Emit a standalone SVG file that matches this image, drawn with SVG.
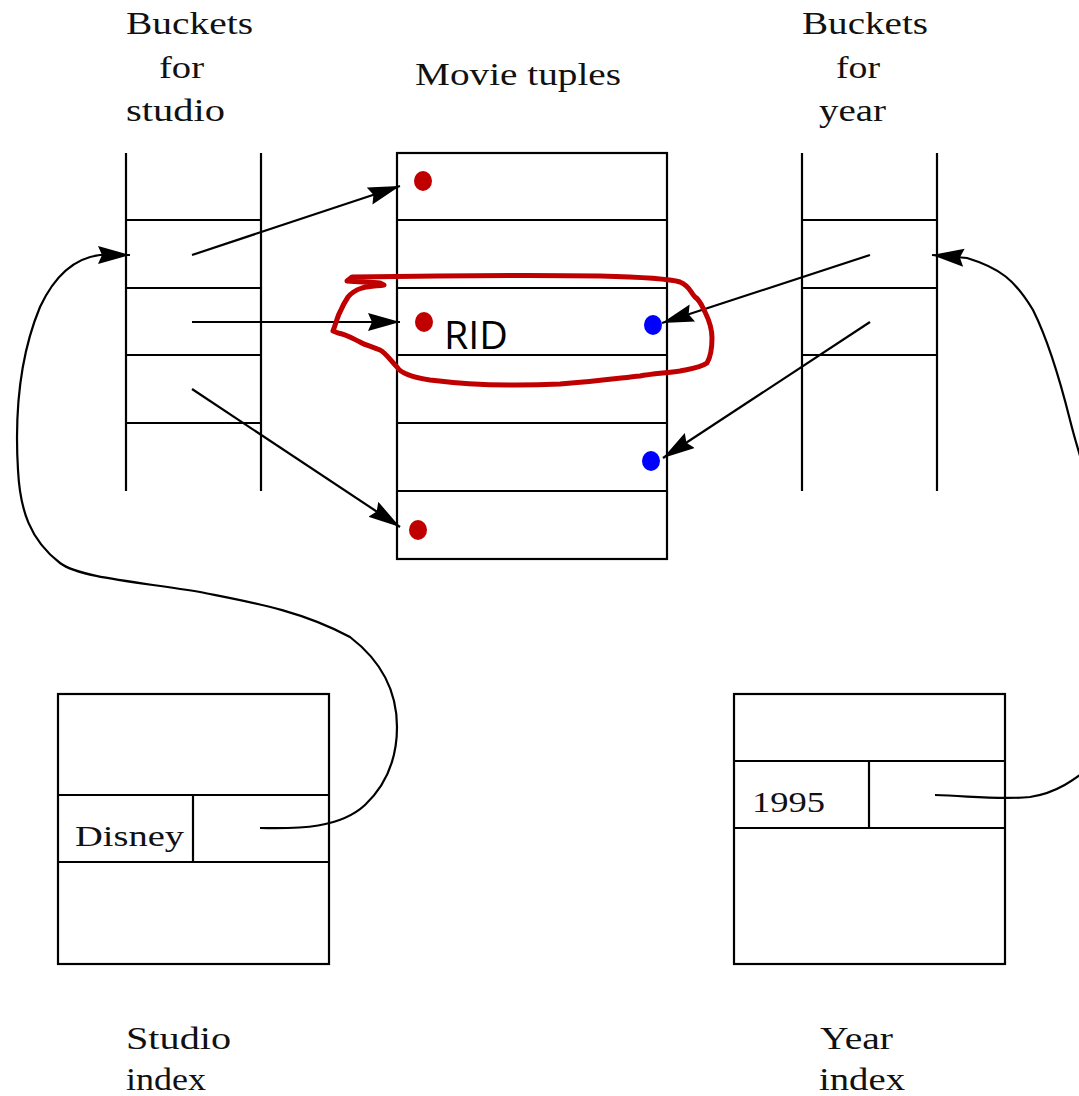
<svg xmlns="http://www.w3.org/2000/svg" width="1079" height="1096" viewBox="0 0 1079 1096">
<style>
.ln{stroke:#000;stroke-width:2.2;fill:none}
.lbl{font-family:"Liberation Serif","DejaVu Serif",serif;font-size:32px;fill:#111}
.cell{font-family:"Liberation Serif","DejaVu Serif",serif;font-size:30px;fill:#111}
.red{fill:#c00000}
.blue{fill:#0000ff}
</style>
<defs>
<marker id="ah" markerUnits="userSpaceOnUse" markerWidth="34" markerHeight="20" refX="32" refY="9" orient="auto">
<path d="M0,0 L32,9 L0,18 L4,9 Z" fill="#000"/>
</marker>
</defs>
<rect width="1079" height="1096" fill="#fff"/>

<g id="label-buckets-studio" class="lbl">
<text x="126" y="34" textLength="127" lengthAdjust="spacingAndGlyphs">Buckets</text>
<text x="159" y="78" textLength="45" lengthAdjust="spacingAndGlyphs">for</text>
<text x="126" y="121" textLength="99" lengthAdjust="spacingAndGlyphs">studio</text>
</g>
<g id="label-movie" class="lbl">
<text x="415" y="85" textLength="206" lengthAdjust="spacingAndGlyphs">Movie tuples</text>
</g>
<g id="label-buckets-year" class="lbl">
<text x="802" y="34" textLength="126" lengthAdjust="spacingAndGlyphs">Buckets</text>
<text x="836" y="78" textLength="44" lengthAdjust="spacingAndGlyphs">for</text>
<text x="819" y="121" textLength="67" lengthAdjust="spacingAndGlyphs">year</text>
</g>

<g id="studio-buckets" class="ln">
<line x1="126" y1="153" x2="126" y2="491"/>
<line x1="261" y1="153" x2="261" y2="491"/>
<line x1="126" y1="220" x2="261" y2="220"/>
<line x1="126" y1="288" x2="261" y2="288"/>
<line x1="126" y1="355" x2="261" y2="355"/>
<line x1="126" y1="423" x2="261" y2="423"/>
</g>

<g id="movie-tuples">
<g class="ln">
<rect x="397" y="153" width="270" height="406"/>
<line x1="397" y1="220" x2="667" y2="220"/>
<line x1="397" y1="288" x2="667" y2="288"/>
<line x1="397" y1="355" x2="667" y2="355"/>
<line x1="397" y1="423" x2="667" y2="423"/>
<line x1="397" y1="491" x2="667" y2="491"/>
</g>
<ellipse class="red" cx="423" cy="181" rx="9" ry="10"/>
<ellipse class="red" cx="424" cy="322" rx="9" ry="10"/>
<ellipse class="red" cx="418" cy="530" rx="9" ry="10"/>
<ellipse class="blue" cx="653" cy="325" rx="9" ry="10"/>
<ellipse class="blue" cx="651" cy="461" rx="9" ry="10"/>
<text x="444" y="349" font-family="'Open Sans','Liberation Sans',sans-serif" font-size="38" fill="#000" textLength="64" lengthAdjust="spacingAndGlyphs">RID</text>
</g>

<g id="year-buckets" class="ln">
<line x1="802" y1="153" x2="802" y2="491"/>
<line x1="937" y1="153" x2="937" y2="491"/>
<line x1="802" y1="220" x2="937" y2="220"/>
<line x1="802" y1="288" x2="937" y2="288"/>
<line x1="802" y1="355" x2="937" y2="355"/>
</g>

<g id="studio-index">
<g class="ln">
<rect x="58" y="694" width="271" height="270"/>
<line x1="58" y1="795" x2="329" y2="795"/>
<line x1="58" y1="862" x2="329" y2="862"/>
<line x1="193" y1="795" x2="193" y2="862"/>
</g>
<text class="cell" x="75" y="846" textLength="109" lengthAdjust="spacingAndGlyphs">Disney</text>
</g>

<g id="year-index">
<g class="ln">
<rect x="734" y="694" width="271" height="270"/>
<line x1="734" y1="761" x2="1005" y2="761"/>
<line x1="734" y1="828" x2="1005" y2="828"/>
<line x1="869" y1="761" x2="869" y2="828"/>
</g>
<text class="cell" x="752" y="812" textLength="73" lengthAdjust="spacingAndGlyphs">1995</text>
</g>

<g id="label-studio-index" class="lbl">
<text x="126" y="1049" textLength="105" lengthAdjust="spacingAndGlyphs">Studio</text>
<text x="126" y="1090" textLength="80" lengthAdjust="spacingAndGlyphs">index</text>
</g>
<g id="label-year-index" class="lbl">
<text x="820" y="1049" textLength="73" lengthAdjust="spacingAndGlyphs">Year</text>
<text x="819" y="1090" textLength="86" lengthAdjust="spacingAndGlyphs">index</text>
</g>

<g id="connectors" class="ln">
<line x1="192" y1="255" x2="400" y2="186" marker-end="url(#ah)"/>
<line x1="192" y1="322" x2="400" y2="322" marker-end="url(#ah)"/>
<line x1="192" y1="389" x2="400" y2="527" marker-end="url(#ah)"/>
<line x1="870" y1="255" x2="662" y2="323" marker-end="url(#ah)"/>
<line x1="870" y1="322" x2="663" y2="458" marker-end="url(#ah)"/>
<path d="M260,828 C300,829 340,828 365,805 C385,786 397,760 397,727 C397,690 380,660 350,637 C300,610 250,602 200,592 C140,582 80,578 60,563 C30,540 20,510 18,470 C15,420 18,360 40,307 C55,275 75,258 100,255 L130,255" marker-end="url(#ah)"/>
<path d="M935,795 C970,796 1000,800 1030,797 C1060,793 1080,775 1100,760"/>
<path d="M1100,520 C1090,485 1080,460 1070,420 C1060,380 1048,340 1033,310 C1015,280 1000,268 967,258 L932,255" marker-end="url(#ah)"/>
</g>

<g id="highlight">
<path d="M347,281 L352,277 C420,276 540,275 600,276 C640,277 670,279 680,282 C690,286 690,292 695,297 C700,300 702,306 705,312 C710,322 712,330 712,338 C712,350 710,358 707,363 C700,368 690,369 680,371 C665,373 650,374 640,376 C620,378 600,381 560,384 C520,386 470,385 430,380 C410,377 400,372 397,367 C390,360 385,352 380,350 C370,346 365,345 360,342 C350,337 345,334 338,333 L333,331 C336,323 338,315 340,312 C343,305 346,300 348,297 C352,292 356,290 362,288 C370,286 378,286 384,285 L380,283 C372,282 360,282 347,281 Z" fill="none" stroke="#c00000" stroke-width="5" stroke-linejoin="round"/>
</g>
</svg>
